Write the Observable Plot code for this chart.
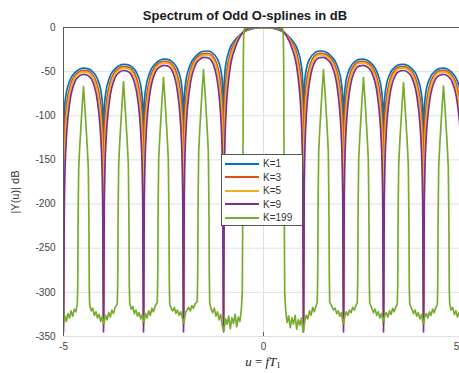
<!DOCTYPE html>
<html><head><meta charset="utf-8">
<script src="https://cdn.jsdelivr.net/npm/d3@7"></script>
<script src="https://cdn.jsdelivr.net/npm/@observablehq/plot@0.6"></script>
<style>
html,body{margin:0;padding:0;background:#fff;overflow:hidden;}
#wrap{position:relative;width:459px;height:373px;overflow:hidden;font-family:"Liberation Sans",Arial,sans-serif;}
#wrap svg{position:absolute;left:0;top:0;max-width:none !important;width:464px !important;height:373px !important;}
#title{position:absolute;top:8px;left:245px;transform:translateX(-50%);font-weight:bold;font-size:13px;color:#1a1a1a;white-space:nowrap;}
#ylab{position:absolute;left:15px;top:192px;transform:translate(-50%,-50%) rotate(-90deg);font-size:11px;color:#333;white-space:nowrap;}
#xlab{position:absolute;left:263px;top:355px;transform:translateX(-50%);font-family:"Liberation Serif",serif;font-size:13px;line-height:13px;height:16px;color:#222;white-space:nowrap;}
#xlab .s{font-size:9px;line-height:9px;position:relative;top:2px;}
#legend{position:absolute;left:221px;top:154px;width:82px;height:72px;background:#fff;border:1px solid #555;box-sizing:border-box;}
.row{position:absolute;left:3px;height:12px;display:flex;align-items:center;font-size:10px;color:#333;white-space:nowrap;}
.sw{display:inline-block;width:34px;height:2px;margin-right:4px;}
</style></head><body>
<div id="wrap">
  <div id="title">Spectrum of Odd O-splines in dB</div>
  <div id="ylab">|Y(u)| dB</div>
  <div id="xlab"><i>u</i> = <i>fT</i><span class="s">1</span></div>
</div>
<script>
const seriesNames = ["K=1", "K=3", "K=5", "K=9", "K=199"];
const seriesColors = ["#0072BD", "#D95319", "#EDB120", "#7E2F8E", "#77AC30"];
const xTicks = [-5, 0, 5];
const yTicks = [0, -50, -100, -150, -200, -250, -300, -350];

const uGrid = [
-5, -4.98, -4.95, -4.85, -4.7, -4.6, -4.5, -4.4, -4.3, -4.15, -4.05, -4.02,
-4, -3.98, -3.95, -3.85, -3.7, -3.6, -3.5, -3.4, -3.3, -3.15, -3.05, -3.02,
-3, -2.98, -2.95, -2.85, -2.7, -2.6, -2.5, -2.4, -2.3, -2.15, -2.05, -2.02,
-2, -1.98, -1.95, -1.85, -1.7, -1.6, -1.5, -1.4, -1.3, -1.15, -1.05, -1.02,
-1, -0.98, -0.95, -0.85, -0.7, -0.6, -0.5, -0.4, -0.3, -0.15,
0,
0.15, 0.3, 0.4, 0.5, 0.6, 0.7, 0.85, 0.95, 0.98,
1, 1.02, 1.05, 1.15, 1.3, 1.4, 1.5, 1.6, 1.7, 1.85, 1.95, 1.98,
2, 2.02, 2.05, 2.15, 2.3, 2.4, 2.5, 2.6, 2.7, 2.85, 2.95, 2.98,
3, 3.02, 3.05, 3.15, 3.3, 3.4, 3.5, 3.6, 3.7, 3.85, 3.95, 3.98,
4, 4.02, 4.05, 4.15, 4.3, 4.4, 4.5, 4.6, 4.7, 4.85, 4.95, 4.98,
5];

const k1 = [
-330, -95.9, -79.9, -61.0, -50.5, -47.3, -46.0, -46.5, -48.9, -58.3, -76.4, -92.2,
-330, -92.0, -76.0, -57.0, -46.3, -43.0, -41.7, -42.0, -44.3, -53.5, -71.5, -87.2,
-330, -87.0, -70.9, -51.8, -40.8, -37.4, -35.8, -36.0, -38.0, -46.9, -64.6, -80.2,
-330, -79.9, -63.7, -44.3, -32.8, -28.9, -26.9, -26.6, -28.1, -36.0, -52.9, -68.3,
-330, -62, -44, -25, -13.5, -8.8, -5.5, -3.2, -1.6, -0.3,
0,
-0.3, -1.6, -3.2, -5.5, -8.8, -13.5, -25, -44, -62,
-330, -68.3, -52.9, -36.0, -28.1, -26.6, -26.9, -28.9, -32.8, -44.3, -63.7, -79.9,
-330, -80.2, -64.6, -46.9, -38.0, -36.0, -35.8, -37.4, -40.8, -51.8, -70.9, -87.0,
-330, -87.2, -71.5, -53.5, -44.3, -42.0, -41.7, -43.0, -46.3, -57.0, -76.0, -92.0,
-330, -92.2, -76.4, -58.3, -48.9, -46.5, -46.0, -47.3, -50.5, -61.0, -79.9, -95.9,
-330];

const k3 = [
-335, -130.9, -99.9, -69.0, -53.5, -49.9, -48.6, -49.1, -51.9, -66.3, -96.4, -127.2,
-335, -127.0, -96.0, -65.0, -49.3, -45.6, -44.3, -44.6, -47.3, -61.5, -91.5, -122.2,
-335, -122.0, -90.9, -59.8, -43.8, -40.0, -38.4, -38.6, -41.0, -54.9, -84.6, -115.2,
-335, -114.9, -83.7, -52.3, -35.8, -31.5, -29.5, -29.2, -31.1, -44.0, -72.9, -103.3,
-335, -97, -64, -33, -16, -9.6, -5.0, -2.4, -1.0, -0.1,
0,
-0.1, -1.0, -2.4, -5.0, -9.6, -16, -33, -64, -97,
-335, -103.3, -72.9, -44.0, -31.1, -29.2, -29.5, -31.5, -35.8, -52.3, -83.7, -114.9,
-335, -115.2, -84.6, -54.9, -41.0, -38.6, -38.4, -40.0, -43.8, -59.8, -90.9, -122.0,
-335, -122.2, -91.5, -61.5, -47.3, -44.6, -44.3, -45.6, -49.3, -65.0, -96.0, -127.0,
-335, -127.2, -96.4, -66.3, -51.9, -49.1, -48.6, -49.9, -53.5, -69.0, -99.9, -130.9,
-335];

const k5 = [
-338, -160.9, -117.9, -76.0, -56.0, -51.8, -50.3, -51.0, -54.4, -73.3, -114.4, -157.2,
-338, -157.0, -114.0, -72.0, -51.8, -47.5, -46.0, -46.5, -49.8, -68.5, -109.5, -152.2,
-338, -152.0, -108.9, -66.8, -46.3, -41.9, -40.1, -40.5, -43.5, -61.9, -102.6, -145.2,
-338, -144.9, -101.7, -59.3, -38.3, -33.4, -31.2, -31.1, -33.6, -51.0, -90.9, -133.3,
-338, -127, -82, -40, -18.5, -10.2, -4.8, -2.0, -0.7, -0.05,
0,
-0.05, -0.7, -2.0, -4.8, -10.2, -18.5, -40, -82, -127,
-338, -133.3, -90.9, -51.0, -33.6, -31.1, -31.2, -33.4, -38.3, -59.3, -101.7, -144.9,
-338, -145.2, -102.6, -61.9, -43.5, -40.5, -40.1, -41.9, -46.3, -66.8, -108.9, -152.0,
-338, -152.2, -109.5, -68.5, -49.8, -46.5, -46.0, -47.5, -51.8, -72.0, -114.0, -157.0,
-338, -157.2, -114.4, -73.3, -54.4, -51.0, -50.3, -51.8, -56.0, -76.0, -117.9, -160.9,
-338];

const k9 = [
-345, -205.9, -144.9, -87.0, -60.0, -54.8, -53.0, -54.0, -58.4, -84.3, -141.4, -202.2,
-345, -202.0, -141.0, -83.0, -55.8, -50.5, -48.7, -49.5, -53.8, -79.5, -136.5, -197.2,
-345, -197.0, -135.9, -77.8, -50.3, -44.9, -42.8, -43.5, -47.5, -72.9, -129.6, -190.2,
-345, -189.9, -128.7, -70.3, -42.3, -36.4, -33.9, -34.1, -37.6, -62.0, -117.9, -178.3,
-345, -172, -109, -51, -22, -11.5, -4.6, -1.5, -0.4, 0,
0,
0, -0.4, -1.5, -4.6, -11.5, -22, -51, -109, -172,
-345, -178.3, -117.9, -62.0, -37.6, -34.1, -33.9, -36.4, -42.3, -70.3, -128.7, -189.9,
-345, -190.2, -129.6, -72.9, -47.5, -43.5, -42.8, -44.9, -50.3, -77.8, -135.9, -197.0,
-345, -197.2, -136.5, -79.5, -53.8, -49.5, -48.7, -50.5, -55.8, -83.0, -141.0, -202.0,
-345, -202.2, -141.4, -84.3, -58.4, -54.0, -53.0, -54.8, -60.0, -87.0, -144.9, -205.9,
-345];

const k199U = [
-5, -4.97, -4.93, -4.89, -4.85, -4.81, -4.77, -4.73, -4.69, -4.655,
-4.645, -4.635, -4.62, -4.59, -4.56, -4.53, -4.5, -4.47, -4.44, -4.41, -4.38, -4.365, -4.355,
-4.345, -4.31, -4.27, -4.23, -4.19, -4.15, -4.11, -4.07, -4.03, -3.99, -3.95, -3.91, -3.87, -3.83, -3.79, -3.75, -3.71, -3.655,
-3.645, -3.635, -3.62, -3.59, -3.56, -3.53, -3.5, -3.47, -3.44, -3.41, -3.38, -3.365, -3.355,
-3.345, -3.31, -3.27, -3.23, -3.19, -3.15, -3.11, -3.07, -3.03, -2.99, -2.95, -2.91, -2.87, -2.83, -2.79, -2.75, -2.71, -2.655,
-2.645, -2.635, -2.62, -2.59, -2.56, -2.53, -2.5, -2.47, -2.44, -2.41, -2.38, -2.365, -2.355,
-2.345, -2.31, -2.27, -2.23, -2.19, -2.15, -2.11, -2.07, -2.03, -1.99, -1.95, -1.91, -1.87, -1.83, -1.79, -1.75, -1.71, -1.655,
-1.645, -1.635, -1.62, -1.59, -1.56, -1.53, -1.5, -1.47, -1.44, -1.41, -1.38, -1.365, -1.355,
-1.345, -1.31, -1.27, -1.23, -1.19, -1.15, -1.11, -1.07, -1.03, -0.99, -0.95, -0.91, -0.87, -0.83, -0.79, -0.75, -0.71, -0.67, -0.63, -0.59, -0.555,
-0.53, -0.515, -0.505, -0.495, -0.48, -0.44, -0.3, 0, 0.3, 0.44, 0.48, 0.495, 0.505, 0.515, 0.53,
0.555, 0.59, 0.63, 0.67, 0.71, 0.75, 0.79, 0.83, 0.87, 0.91, 0.95, 0.99, 1.03, 1.07, 1.11, 1.15, 1.19, 1.23, 1.27, 1.31, 1.345,
1.355, 1.365, 1.38, 1.41, 1.44, 1.47, 1.5, 1.53, 1.56, 1.59, 1.62, 1.635, 1.645,
1.655, 1.71, 1.75, 1.79, 1.83, 1.87, 1.91, 1.95, 1.99, 2.03, 2.07, 2.11, 2.15, 2.19, 2.23, 2.27, 2.31, 2.345,
2.355, 2.365, 2.38, 2.41, 2.44, 2.47, 2.5, 2.53, 2.56, 2.59, 2.62, 2.635, 2.645,
2.655, 2.71, 2.75, 2.79, 2.83, 2.87, 2.91, 2.95, 2.99, 3.03, 3.07, 3.11, 3.15, 3.19, 3.23, 3.27, 3.31, 3.345,
3.355, 3.365, 3.38, 3.41, 3.44, 3.47, 3.5, 3.53, 3.56, 3.59, 3.62, 3.635, 3.645,
3.655, 3.71, 3.75, 3.79, 3.83, 3.87, 3.91, 3.95, 3.99, 4.03, 4.07, 4.11, 4.15, 4.19, 4.23, 4.27, 4.31, 4.345,
4.355, 4.365, 4.38, 4.41, 4.44, 4.47, 4.5, 4.53, 4.56, 4.59, 4.62, 4.635, 4.645,
4.655, 4.69, 4.73, 4.77, 4.81, 4.85, 4.89, 4.93, 4.97, 5];

const k199 = [
-331, -326, -333, -324, -329, -321, -327, -319, -322, -313,
-297, -217, -159, -132, -109, -87, -67, -87, -109, -132, -159, -217, -297,
-314, -321, -318, -326, -322, -329, -325, -333, -327, -336, -326, -331, -323, -328, -320, -324, -317, -313,
-292, -212, -154, -127, -104, -82, -61.6, -82, -104, -127, -154, -212, -292,
-312, -319, -316, -324, -320, -327, -323, -330, -325, -334, -324, -329, -321, -326, -318, -322, -316, -311,
-287, -207, -149, -122, -99, -77, -56.6, -77, -99, -122, -149, -207, -287,
-313, -318, -321, -317, -324, -320, -326, -322, -329, -335, -323, -320, -317, -321, -315, -318, -313, -310,
-278, -198, -140, -113, -90, -68, -47.6, -68, -90, -113, -140, -198, -278,
-312, -319, -323, -318, -327, -322, -331, -325, -338, -344, -330, -336, -327, -341, -329, -335, -325, -339, -328, -333, -320,
-300, -180, -40, -8, -1.5, -0.3, 0, 0, 0, -0.3, -1.5, -8, -40, -180, -300,
-321, -334, -327, -340, -329, -336, -326, -342, -331, -337, -329, -345, -333, -326, -330, -321, -326, -317, -322, -316, -311,
-278, -198, -140, -113, -90, -68, -47.6, -68, -90, -113, -140, -198, -278,
-311, -316, -320, -318, -324, -321, -327, -323, -336, -328, -322, -326, -320, -323, -317, -320, -315, -312,
-287, -207, -149, -122, -99, -77, -56.6, -77, -99, -122, -149, -207, -287,
-312, -318, -323, -319, -326, -322, -329, -324, -333, -327, -323, -328, -321, -325, -318, -322, -316, -313,
-293, -213, -155, -128, -105, -83, -62.5, -83, -105, -128, -155, -213, -293,
-313, -319, -324, -320, -327, -323, -330, -325, -336, -328, -324, -329, -322, -326, -319, -323, -317, -314,
-297, -217, -158, -131, -108, -86, -66.5, -86, -108, -131, -158, -217, -297,
-313, -320, -317, -325, -321, -328, -323, -331, -325, -332];

const smooth = [k1, k3, k5, k9].map((arr, s) => uGrid.map((u, i) => ({u, db: arr[i], s})));
const green = k199U.map((u, i) => ({u, db: k199[i]}));

const fmt = d => String(d);
const chart = Plot.plot({
  width: 464, height: 373,
  marginLeft: 63, marginRight: 1, marginTop: 27, marginBottom: 37,
  x: {domain: [-5, 5]},
  y: {domain: [-350, 0]},
  style: {fontFamily: '"Liberation Sans", Arial, sans-serif', fontSize: "10px", color: "#444", background: "transparent"},
  marks: [
    Plot.gridY(yTicks, {stroke: "#e0e0e0", strokeOpacity: 1}),
    Plot.gridX(xTicks, {stroke: "#e0e0e0", strokeOpacity: 1}),
    Plot.axisY(yTicks, {tickSize: 0, tickPadding: 8, tickFormat: fmt, label: null}),
    Plot.axisX(xTicks.slice(0, 2), {tickSize: 0, tickPadding: 6, tickFormat: fmt, label: null}),
    Plot.axisX(xTicks.slice(2), {tickSize: 0, tickPadding: 6, tickFormat: fmt, label: null, dx: -7}),
    ...smooth.map((rows, s) => Plot.line(rows, {x: "u", y: "db", stroke: seriesColors[s], strokeWidth: 1.7, curve: "monotone-x", clip: true})),
    Plot.line(green, {x: "u", y: "db", stroke: seriesColors[4], strokeWidth: 1.7, clip: true}),
    Plot.ruleY([0], {stroke: "#5a5a5a", strokeWidth: 1}),
    Plot.ruleX([-5], {stroke: "#5a5a5a", strokeWidth: 1}),
    Plot.ruleX(xTicks, {y1: -350, y2: -345.5, stroke: "#5a5a5a"})
  ]
});
const wrap = document.getElementById("wrap");
wrap.insertBefore(chart, wrap.firstChild);

const legend = document.createElement("div");
legend.id = "legend";
const rowCenters = [8.7, 22, 35.7, 49, 62.7];
seriesNames.forEach((name, i) => {
  const r = document.createElement("div");
  r.className = "row";
  r.style.top = (rowCenters[i] - 6) + "px";
  const sw = document.createElement("span");
  sw.className = "sw";
  sw.style.background = seriesColors[i];
  r.appendChild(sw);
  r.appendChild(document.createTextNode(name));
  legend.appendChild(r);
});
wrap.appendChild(legend);
</script>
</body></html>
